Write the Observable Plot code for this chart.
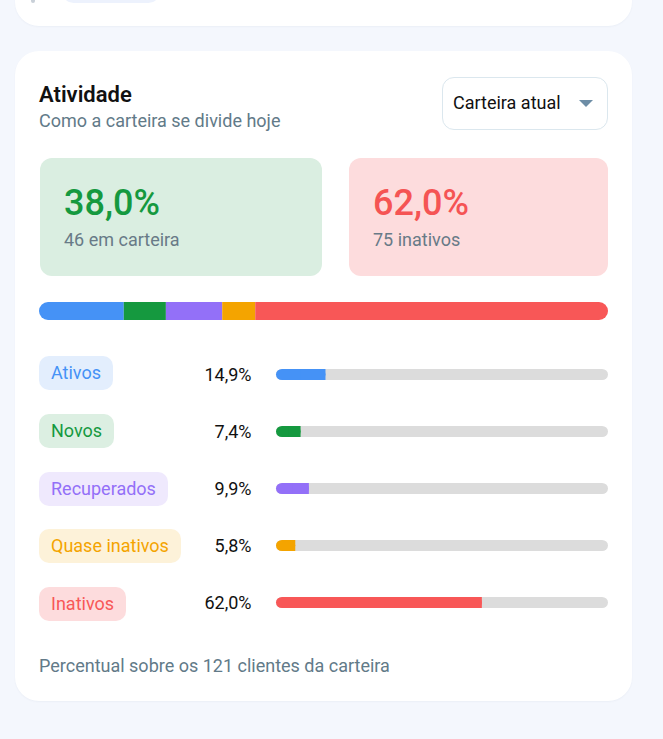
<!DOCTYPE html>
<html>
<head>
<meta charset="utf-8">
<script src="https://cdn.jsdelivr.net/npm/d3@7"></script>
<script src="https://cdn.jsdelivr.net/npm/@observablehq/plot@0.6"></script>
<style>
  html, body { margin: 0; padding: 0; }
  body { width: 663px; height: 739px; background: #f4f7fd; position: relative; overflow: hidden; font-family: Roboto, "Noto Sans", sans-serif; }
  .abs { position: absolute; }
  .card { background: #fff; border-radius: 24px; box-shadow: 0 1px 2px rgba(30,50,90,0.04); }
  .t { white-space: nowrap; line-height: 1; }
  .pill { position: absolute; left: 39px; height: 34px; border-radius: 10px; padding: 0 12px; font-size: 18px; line-height: 34px; white-space: nowrap; }
</style>
</head>
<body>
<script>
// ---- data ----
const categories = ["Ativos", "Novos", "Recuperados", "Quase inativos", "Inativos"];
const percents = [14.9, 7.4, 9.9, 5.8, 62.0];
const colors = ["#4592f6", "#15993f", "#9370f8", "#f4a400", "#f85757"];
const pillBackgrounds = ["#e3eefd", "#dcefe2", "#efe9fd", "#fdf2d9", "#fddcdd"];
const kpiValues = ["38,0%", "62,0%"];
const kpiLabels = ["46 em carteira", "75 inativos"];
const totalClients = 121;

const fmt = v => v.toFixed(1).replace(".", ",") + "%";
const rows = categories.map((label, i) => ({label, pct: percents[i], color: colors[i], bg: pillBackgrounds[i]}));

function el(tag, cls, style, text) {
  const e = document.createElement(tag);
  if (cls) e.className = cls;
  Object.assign(e.style, style || {});
  if (text != null) e.textContent = text;
  document.body.appendChild(e);
  return e;
}
// text placed by baseline (Roboto, line-height 1 -> baseline ~0.84em below top)
function txt(str, x, baseline, size, color, weight, extra) {
  return el("div", "abs t", Object.assign({left: x + "px", top: (baseline - 0.84 * size) + "px", fontSize: size + "px", color, fontWeight: weight || 400}, extra || {}), str);
}

// top partial card
el("div", "abs card", {left: "15px", top: "-60px", width: "617px", height: "86px"});
el("div", "abs", {left: "31px", top: "-10px", width: "4px", height: "13px", background: "#c9d0d8", borderRadius: "2px"});
el("div", "abs", {left: "62px", top: "-20px", width: "98px", height: "23px", background: "#edf2fd", borderRadius: "12px"});

// main card
el("div", "abs card", {left: "15px", top: "51px", width: "617px", height: "650px"});

txt("Atividade", 39, 102, 22, "#111", 600);
txt("Como a carteira se divide hoje", 39, 127, 18, "#627a88");

// dropdown
el("div", "abs", {left: "442px", top: "77px", width: "164px", height: "51px", border: "1.5px solid #dbe7ee", borderRadius: "12px", background: "#fff"});
txt("Carteira atual", 453, 109, 18, "#111");
el("div", "abs", {left: "579px", top: "100px", width: "0", height: "0", borderLeft: "7px solid transparent", borderRight: "7px solid transparent", borderTop: "7px solid #6d8da6"});

// KPI boxes
el("div", "abs", {left: "40px", top: "158px", width: "282px", height: "118px", background: "#daeee1", borderRadius: "12px"});
el("div", "abs", {left: "349px", top: "158px", width: "259px", height: "118px", background: "#fddcdd", borderRadius: "12px"});
txt(kpiValues[0], 64, 215, 36, "#15993f", 500);
txt(kpiLabels[0], 64, 246, 18, "#687a87");
txt(kpiValues[1], 373, 215, 36, "#f55454", 500);
txt(kpiLabels[1], 373, 246, 18, "#687a87");

// stacked bar
const stackWrap = el("div", "abs", {left: "39px", top: "302px", width: "569px", height: "18px", borderRadius: "9px", overflow: "hidden"});
stackWrap.appendChild(Plot.plot({
  width: 569, height: 18,
  margin: 0,
  x: {domain: [0, 100], axis: null},
  color: {domain: categories, range: colors},
  style: {background: "transparent"},
  marks: [
    Plot.barX(rows, Plot.stackX({x: "pct", fill: "label"}))
  ]
}));

// pills
const rowTop = 344, rowStep = 289 / 5;
rows.forEach((r, i) => {
  el("div", "pill", {top: (rowTop + rowStep * (i + 0.5) - 17) + "px", background: r.bg, color: r.color}, r.label);
});

// row bars
const rowWrap = el("div", "abs", {left: "150px", top: rowTop + "px"});
rowWrap.appendChild(Plot.plot({
  width: 458, height: 289,
  marginLeft: 126, marginRight: 0, marginTop: 0, marginBottom: 0,
  x: {domain: [0, 100], axis: null},
  y: {domain: categories, axis: null, padding: 0},
  color: {domain: categories, range: colors},
  style: {background: "transparent", fontFamily: "Roboto", overflow: "visible"},
  marks: [
    Plot.barX(rows, {x1: () => 0, x2: () => 100, y: "label", fill: "#dcdcdc", insetTop: 23, insetBottom: 23, rx: 6}),
    Plot.barX(rows, {x1: () => 0, x2: "pct", y: "label", fill: "label", insetTop: 23, insetBottom: 23, rx: 6}),
    Plot.barX(rows, {x1: d => d.pct / 2, x2: "pct", y: "label", fill: "label", insetTop: 23, insetBottom: 23}),
    Plot.text(rows, {x: () => 0, y: "label", text: d => fmt(d.pct), textAnchor: "end", dx: -25, fontSize: 18, fill: "#111"})
  ]
}));

txt(`Percentual sobre os ${totalClients} clientes da carteira`, 39, 672, 18, "#627a88");
</script>
</body>
</html>
